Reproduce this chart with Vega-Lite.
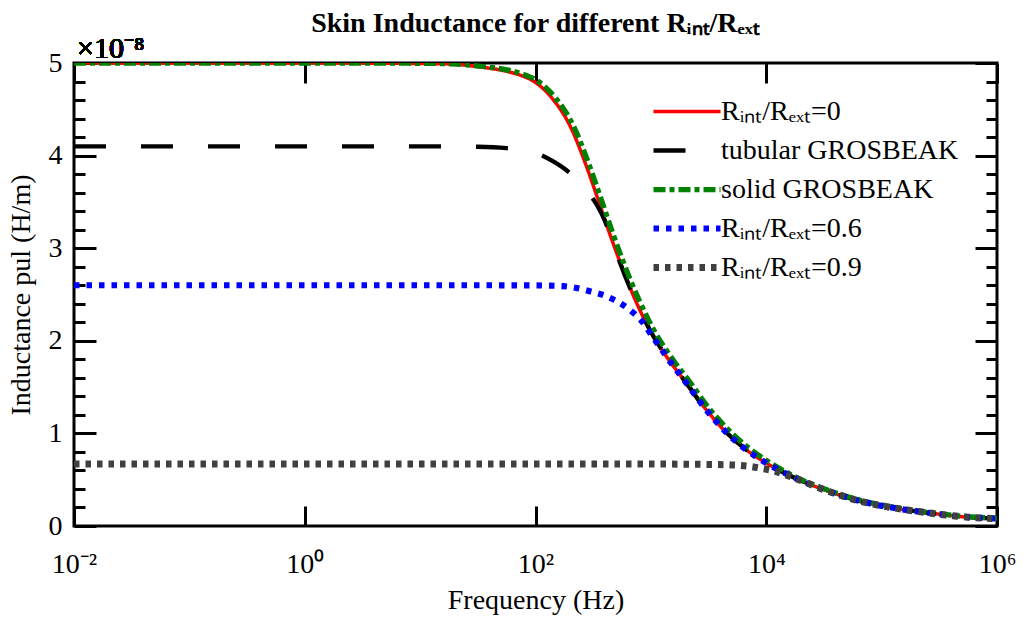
{
  "$schema": "https://vega.github.io/schema/vega-lite/v6.json",
  "autosize": {"type": "none"},
  "width": 923,
  "height": 463,
  "padding": {"left": 74, "top": 63, "right": 29, "bottom": 96},
  "background": "white",
  "title": {
    "text": "Skin Inductance for different Rᵢₙₜ/Rₑₓₜ",
    "font": "Liberation Serif",
    "fontSize": 28,
    "fontWeight": "bold",
    "color": "#000",
    "anchor": "middle",
    "offset": -4
  },
  "config": {
    "view": {"stroke": "#000", "strokeWidth": 3},
    "font": "Liberation Serif",
    "axis": {
      "labelFont": "Liberation Serif",
      "titleFont": "Liberation Serif",
      "labelFontSize": 28,
      "titleFontSize": 28,
      "titleFontWeight": "normal",
      "labelColor": "#000",
      "titleColor": "#000",
      "tickColor": "#000",
      "tickWidth": 3,
      "domain": false,
      "grid": false,
      "labelOverlap": false,
      "labelFlush": false
    }
  },
  "data": {
    "values": [
      {"s": "Rᵢₙₜ/Rₑₓₜ=0", "f": 0.01, "L": 5.0},
      {"s": "Rᵢₙₜ/Rₑₓₜ=0", "f": 1, "L": 5.0},
      {"s": "Rᵢₙₜ/Rₑₓₜ=0", "f": 10, "L": 4.995},
      {"s": "Rᵢₙₜ/Rₑₓₜ=0", "f": 17.78, "L": 4.99},
      {"s": "Rᵢₙₜ/Rₑₓₜ=0", "f": 31.62, "L": 4.96},
      {"s": "Rᵢₙₜ/Rₑₓₜ=0", "f": 56.23, "L": 4.91},
      {"s": "Rᵢₙₜ/Rₑₓₜ=0", "f": 73.3, "L": 4.87},
      {"s": "Rᵢₙₜ/Rₑₓₜ=0", "f": 100, "L": 4.79},
      {"s": "Rᵢₙₜ/Rₑₓₜ=0", "f": 141.3, "L": 4.61},
      {"s": "Rᵢₙₜ/Rₑₓₜ=0", "f": 199.5, "L": 4.32},
      {"s": "Rᵢₙₜ/Rₑₓₜ=0", "f": 275.4, "L": 3.89},
      {"s": "Rᵢₙₜ/Rₑₓₜ=0", "f": 363.1, "L": 3.46},
      {"s": "Rᵢₙₜ/Rₑₓₜ=0", "f": 441.6, "L": 3.15},
      {"s": "Rᵢₙₜ/Rₑₓₜ=0", "f": 537, "L": 2.86},
      {"s": "Rᵢₙₜ/Rₑₓₜ=0", "f": 751.6, "L": 2.41},
      {"s": "Rᵢₙₜ/Rₑₓₜ=0", "f": 977.2, "L": 2.12},
      {"s": "Rᵢₙₜ/Rₑₓₜ=0", "f": 1365, "L": 1.83},
      {"s": "Rᵢₙₜ/Rₑₓₜ=0", "f": 2042, "L": 1.54},
      {"s": "Rᵢₙₜ/Rₑₓₜ=0", "f": 3020, "L": 1.255},
      {"s": "Rᵢₙₜ/Rₑₓₜ=0", "f": 4266, "L": 1.04},
      {"s": "Rᵢₙₜ/Rₑₓₜ=0", "f": 6761, "L": 0.82},
      {"s": "Rᵢₙₜ/Rₑₓₜ=0", "f": 10000, "L": 0.68},
      {"s": "Rᵢₙₜ/Rₑₓₜ=0", "f": 16982, "L": 0.53},
      {"s": "Rᵢₙₜ/Rₑₓₜ=0", "f": 35481, "L": 0.37},
      {"s": "Rᵢₙₜ/Rₑₓₜ=0", "f": 69183, "L": 0.26},
      {"s": "Rᵢₙₜ/Rₑₓₜ=0", "f": 134896, "L": 0.19},
      {"s": "Rᵢₙₜ/Rₑₓₜ=0", "f": 263027, "L": 0.14},
      {"s": "Rᵢₙₜ/Rₑₓₜ=0", "f": 501187, "L": 0.1},
      {"s": "Rᵢₙₜ/Rₑₓₜ=0", "f": 1000000, "L": 0.08},

      {"s": "tubular GROSBEAK", "f": 0.01, "L": 4.1},
      {"s": "tubular GROSBEAK", "f": 1, "L": 4.1},
      {"s": "tubular GROSBEAK", "f": 10, "L": 4.1},
      {"s": "tubular GROSBEAK", "f": 31.62, "L": 4.095},
      {"s": "tubular GROSBEAK", "f": 56.23, "L": 4.08},
      {"s": "tubular GROSBEAK", "f": 77.6, "L": 4.06},
      {"s": "tubular GROSBEAK", "f": 100, "L": 4.03},
      {"s": "tubular GROSBEAK", "f": 141.3, "L": 3.94},
      {"s": "tubular GROSBEAK", "f": 199.5, "L": 3.81},
      {"s": "tubular GROSBEAK", "f": 229.1, "L": 3.74},
      {"s": "tubular GROSBEAK", "f": 281.8, "L": 3.61},
      {"s": "tubular GROSBEAK", "f": 346.7, "L": 3.45},
      {"s": "tubular GROSBEAK", "f": 398.1, "L": 3.3},
      {"s": "tubular GROSBEAK", "f": 441.6, "L": 3.15},
      {"s": "tubular GROSBEAK", "f": 537, "L": 2.85},
      {"s": "tubular GROSBEAK", "f": 751.6, "L": 2.41},
      {"s": "tubular GROSBEAK", "f": 977.2, "L": 2.12},
      {"s": "tubular GROSBEAK", "f": 1365, "L": 1.83},
      {"s": "tubular GROSBEAK", "f": 2042, "L": 1.54},
      {"s": "tubular GROSBEAK", "f": 3020, "L": 1.25},
      {"s": "tubular GROSBEAK", "f": 4266, "L": 1.04},
      {"s": "tubular GROSBEAK", "f": 6761, "L": 0.82},
      {"s": "tubular GROSBEAK", "f": 10000, "L": 0.68},
      {"s": "tubular GROSBEAK", "f": 16982, "L": 0.53},
      {"s": "tubular GROSBEAK", "f": 35481, "L": 0.37},
      {"s": "tubular GROSBEAK", "f": 69183, "L": 0.26},
      {"s": "tubular GROSBEAK", "f": 134896, "L": 0.19},
      {"s": "tubular GROSBEAK", "f": 263027, "L": 0.14},
      {"s": "tubular GROSBEAK", "f": 501187, "L": 0.1},
      {"s": "tubular GROSBEAK", "f": 1000000, "L": 0.08},

      {"s": "solid GROSBEAK", "f": 0.01, "L": 5.0},
      {"s": "solid GROSBEAK", "f": 1, "L": 5.0},
      {"s": "solid GROSBEAK", "f": 10, "L": 4.997},
      {"s": "solid GROSBEAK", "f": 18.84, "L": 4.99},
      {"s": "solid GROSBEAK", "f": 33.5, "L": 4.965},
      {"s": "solid GROSBEAK", "f": 59.6, "L": 4.92},
      {"s": "solid GROSBEAK", "f": 77.6, "L": 4.88},
      {"s": "solid GROSBEAK", "f": 105.9, "L": 4.8},
      {"s": "solid GROSBEAK", "f": 149.7, "L": 4.62},
      {"s": "solid GROSBEAK", "f": 211.3, "L": 4.33},
      {"s": "solid GROSBEAK", "f": 291.7, "L": 3.9},
      {"s": "solid GROSBEAK", "f": 384.6, "L": 3.47},
      {"s": "solid GROSBEAK", "f": 467.8, "L": 3.16},
      {"s": "solid GROSBEAK", "f": 568.8, "L": 2.87},
      {"s": "solid GROSBEAK", "f": 796.2, "L": 2.43},
      {"s": "solid GROSBEAK", "f": 1035, "L": 2.14},
      {"s": "solid GROSBEAK", "f": 1446, "L": 1.85},
      {"s": "solid GROSBEAK", "f": 2163, "L": 1.56},
      {"s": "solid GROSBEAK", "f": 3199, "L": 1.27},
      {"s": "solid GROSBEAK", "f": 4519, "L": 1.06},
      {"s": "solid GROSBEAK", "f": 7162, "L": 0.835},
      {"s": "solid GROSBEAK", "f": 10593, "L": 0.69},
      {"s": "solid GROSBEAK", "f": 16982, "L": 0.545},
      {"s": "solid GROSBEAK", "f": 35481, "L": 0.38},
      {"s": "solid GROSBEAK", "f": 69183, "L": 0.27},
      {"s": "solid GROSBEAK", "f": 134896, "L": 0.197},
      {"s": "solid GROSBEAK", "f": 263027, "L": 0.145},
      {"s": "solid GROSBEAK", "f": 501187, "L": 0.105},
      {"s": "solid GROSBEAK", "f": 1000000, "L": 0.085},

      {"s": "Rᵢₙₜ/Rₑₓₜ=0.6", "f": 0.01, "L": 2.6},
      {"s": "Rᵢₙₜ/Rₑₓₜ=0.6", "f": 1, "L": 2.6},
      {"s": "Rᵢₙₜ/Rₑₓₜ=0.6", "f": 10, "L": 2.6},
      {"s": "Rᵢₙₜ/Rₑₓₜ=0.6", "f": 100, "L": 2.598},
      {"s": "Rᵢₙₜ/Rₑₓₜ=0.6", "f": 173.8, "L": 2.59},
      {"s": "Rᵢₙₜ/Rₑₓₜ=0.6", "f": 295.1, "L": 2.535},
      {"s": "Rᵢₙₜ/Rₑₓₜ=0.6", "f": 467.7, "L": 2.45},
      {"s": "Rᵢₙₜ/Rₑₓₜ=0.6", "f": 707.9, "L": 2.3},
      {"s": "Rᵢₙₜ/Rₑₓₜ=0.6", "f": 851.1, "L": 2.2},
      {"s": "Rᵢₙₜ/Rₑₓₜ=0.6", "f": 977.2, "L": 2.09},
      {"s": "Rᵢₙₜ/Rₑₓₜ=0.6", "f": 1202, "L": 1.93},
      {"s": "Rᵢₙₜ/Rₑₓₜ=0.6", "f": 1365, "L": 1.83},
      {"s": "Rᵢₙₜ/Rₑₓₜ=0.6", "f": 2042, "L": 1.54},
      {"s": "Rᵢₙₜ/Rₑₓₜ=0.6", "f": 3020, "L": 1.255},
      {"s": "Rᵢₙₜ/Rₑₓₜ=0.6", "f": 4266, "L": 1.04},
      {"s": "Rᵢₙₜ/Rₑₓₜ=0.6", "f": 6761, "L": 0.82},
      {"s": "Rᵢₙₜ/Rₑₓₜ=0.6", "f": 10000, "L": 0.68},
      {"s": "Rᵢₙₜ/Rₑₓₜ=0.6", "f": 16982, "L": 0.53},
      {"s": "Rᵢₙₜ/Rₑₓₜ=0.6", "f": 35481, "L": 0.37},
      {"s": "Rᵢₙₜ/Rₑₓₜ=0.6", "f": 69183, "L": 0.26},
      {"s": "Rᵢₙₜ/Rₑₓₜ=0.6", "f": 134896, "L": 0.19},
      {"s": "Rᵢₙₜ/Rₑₓₜ=0.6", "f": 263027, "L": 0.14},
      {"s": "Rᵢₙₜ/Rₑₓₜ=0.6", "f": 501187, "L": 0.1},
      {"s": "Rᵢₙₜ/Rₑₓₜ=0.6", "f": 1000000, "L": 0.08},

      {"s": "Rᵢₙₜ/Rₑₓₜ=0.9", "f": 0.01, "L": 0.67},
      {"s": "Rᵢₙₜ/Rₑₓₜ=0.9", "f": 1, "L": 0.67},
      {"s": "Rᵢₙₜ/Rₑₓₜ=0.9", "f": 100, "L": 0.67},
      {"s": "Rᵢₙₜ/Rₑₓₜ=0.9", "f": 1000, "L": 0.669},
      {"s": "Rᵢₙₜ/Rₑₓₜ=0.9", "f": 3162, "L": 0.665},
      {"s": "Rᵢₙₜ/Rₑₓₜ=0.9", "f": 5012, "L": 0.66},
      {"s": "Rᵢₙₜ/Rₑₓₜ=0.9", "f": 7079, "L": 0.645},
      {"s": "Rᵢₙₜ/Rₑₓₜ=0.9", "f": 8913, "L": 0.625},
      {"s": "Rᵢₙₜ/Rₑₓₜ=0.9", "f": 11220, "L": 0.6},
      {"s": "Rᵢₙₜ/Rₑₓₜ=0.9", "f": 14125, "L": 0.56},
      {"s": "Rᵢₙₜ/Rₑₓₜ=0.9", "f": 17783, "L": 0.515},
      {"s": "Rᵢₙₜ/Rₑₓₜ=0.9", "f": 35481, "L": 0.37},
      {"s": "Rᵢₙₜ/Rₑₓₜ=0.9", "f": 69183, "L": 0.26},
      {"s": "Rᵢₙₜ/Rₑₓₜ=0.9", "f": 134896, "L": 0.19},
      {"s": "Rᵢₙₜ/Rₑₓₜ=0.9", "f": 263027, "L": 0.14},
      {"s": "Rᵢₙₜ/Rₑₓₜ=0.9", "f": 501187, "L": 0.1},
      {"s": "Rᵢₙₜ/Rₑₓₜ=0.9", "f": 1000000, "L": 0.08}
    ]
  },
  "resolve": {"axis": {"x": "independent", "y": "independent"}},
  "layer": [
    {
      "mark": {"type": "line", "strokeCap": "butt", "clip": true, "interpolate": "monotone"},
      "encoding": {
        "x": {
          "field": "f", "type": "quantitative",
          "scale": {"type": "log", "domain": [0.01, 1000000], "nice": false},
          "axis": {
            "orient": "bottom",
            "values": [0.01, 1, 100, 10000, 1000000],
            "labelExpr": "datum.value < 0.1 ? '10⁻²' : datum.value < 10 ? '10⁰' : datum.value < 1000 ? '10²' : datum.value < 100000 ? '10⁴' : '10⁶'",
            "tickSize": -20,
            "labelPadding": 44,
            "title": "Frequency (Hz)",
            "titlePadding": 8
          }
        },
        "y": {
          "field": "L", "type": "quantitative",
          "scale": {"domain": [0, 5], "nice": false, "zero": true},
          "axis": {
            "orient": "left",
            "values": [0, 0.2, 0.4, 0.6, 0.8, 1, 1.2, 1.4, 1.6, 1.8, 2, 2.2, 2.4, 2.6, 2.8, 3, 3.2, 3.4, 3.6, 3.8, 4, 4.2, 4.4, 4.6, 4.8, 5],
            "labelExpr": "datum.value % 1 === 0 ? format(datum.value, 'd') : ''",
            "tickSize": {"condition": {"test": "datum.value % 1 === 0", "value": -22}, "value": -11},
            "labelPadding": 34,
            "title": "Inductance pul (H/m)",
            "titlePadding": 13
          }
        },
        "color": {
          "field": "s", "type": "nominal",
          "scale": {
            "domain": ["Rᵢₙₜ/Rₑₓₜ=0", "tubular GROSBEAK", "solid GROSBEAK", "Rᵢₙₜ/Rₑₓₜ=0.6", "Rᵢₙₜ/Rₑₓₜ=0.9"],
            "range": ["#ff0000", "#000000", "#008000", "#0000ff", "#404040"]
          },
          "legend": {
            "title": null,
            "orient": "none",
            "legendX": 576,
            "legendY": 29,
            "padding": 0,
            "symbolType": "stroke",
            "symbolSize": 4489,
            "clipHeight": 39,
            "rowPadding": 0,
            "labelFont": "Liberation Serif",
            "labelFontSize": 28,
            "labelColor": "#000",
            "labelOffset": -3,
            "labelLimit": 400
          }
        },
        "strokeDash": {
          "field": "s", "type": "nominal",
          "scale": {
            "domain": ["Rᵢₙₜ/Rₑₓₜ=0", "tubular GROSBEAK", "solid GROSBEAK", "Rᵢₙₜ/Rₑₓₜ=0.6", "Rᵢₙₜ/Rₑₓₜ=0.9"],
            "range": [[1, 0], [32, 35], [12, 4, 5, 4], [5.5, 7], [5.5, 6]]
          },
          "legend": {"title": null}
        },
        "strokeWidth": {
          "field": "s", "type": "nominal",
          "scale": {
            "domain": ["Rᵢₙₜ/Rₑₓₜ=0", "tubular GROSBEAK", "solid GROSBEAK", "Rᵢₙₜ/Rₑₓₜ=0.6", "Rᵢₙₜ/Rₑₓₜ=0.9"],
            "range": [3.5, 7, 4, 5.5, 5.5]
          },
          "legend": {"title": null}
        }
      }
    },
    {
      "mark": {"type": "point", "opacity": 0},
      "encoding": {
        "x": {
          "field": "f", "type": "quantitative",
          "axis": {
            "orient": "top",
            "values": [0.01, 1, 100, 10000, 1000000],
            "labels": false,
            "tickSize": -20,
            "title": null
          }
        },
        "y": {
          "field": "L", "type": "quantitative",
          "axis": {
            "orient": "right",
            "values": [0, 0.2, 0.4, 0.6, 0.8, 1, 1.2, 1.4, 1.6, 1.8, 2, 2.2, 2.4, 2.6, 2.8, 3, 3.2, 3.4, 3.6, 3.8, 4, 4.2, 4.4, 4.6, 4.8, 5],
            "labels": false,
            "tickSize": {"condition": {"test": "datum.value % 1 === 0", "value": -22}, "value": -11},
            "title": null
          }
        }
      }
    },
    {
      "mark": {"type": "text", "text": "×10⁻⁸", "align": "left", "baseline": "alphabetic", "dy": -5, "dx": 3, "fontSize": 30, "font": "Liberation Serif", "color": "#000"},
      "encoding": {
        "x": {"datum": 0.01, "type": "quantitative", "axis": null},
        "y": {"datum": 5, "type": "quantitative", "axis": null}
      }
    }
  ]
}
